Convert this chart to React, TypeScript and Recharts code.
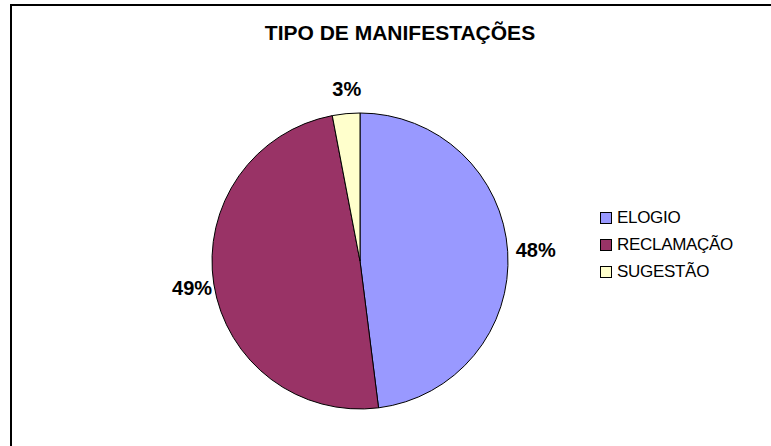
import React from "react";
import { PieChart, Pie, Cell, Legend } from "recharts";

const categories = ["ELOGIO", "RECLAMAÇÃO", "SUGESTÃO"];
const percents = [48, 49, 3];
const colors = ["#9999FF", "#993366", "#FFFFCC"];

const data = categories.map((name, i) => ({ name, value: percents[i] }));

const RADIAN = Math.PI / 180;
const FONT = "Liberation Sans, Arial, sans-serif";

const renderLabel = (props: any) => {
  const { cx, cy, midAngle, outerRadius, value } = props;
  const r = outerRadius + 25;
  const x = cx + r * Math.cos(-midAngle * RADIAN);
  const y = cy + r * Math.sin(-midAngle * RADIAN);
  return (
    <text
      x={x + 3}
      y={y}
      textAnchor="middle"
      dominantBaseline="central"
      fontFamily={FONT}
      fontWeight="bold"
      fontSize={20}
      fill="#000"
    >
      {value}%
    </text>
  );
};

const renderLegend = () => (
  <div style={{ fontFamily: FONT, fontSize: 17 }}>
    {categories.map((c, i) => (
      <div key={c} style={{ display: "flex", alignItems: "center", height: 27 }}>
        <span
          style={{
            width: 10,
            height: 10,
            background: colors[i],
            border: "1px solid #000",
            marginRight: 5,
            display: "inline-block",
          }}
        />
        <span style={{ letterSpacing: -0.3 }}>{c}</span>
      </div>
    ))}
  </div>
);

export default function App() {
  return (
    <div style={{ position: "absolute", left: 0, top: 0, width: 771, height: 446, background: "#fff", overflow: "hidden" }}>
      <div
        style={{
          position: "absolute",
          left: 10,
          top: 4,
          width: 800,
          height: 500,
          borderLeft: "2px solid #000",
          borderTop: "2px solid #000",
        }}
      />
      <div
        style={{
          position: "absolute",
          left: 0,
          width: 800,
          top: 21,
          textAlign: "center",
          fontFamily: FONT,
          fontWeight: "bold",
          fontSize: 21,
          lineHeight: "24px",
        }}
      >
        TIPO DE MANIFESTAÇÕES
      </div>
      <div style={{ position: "absolute", left: 0, top: 0 }}>
        <PieChart width={771} height={446} margin={{ top: 0, right: 0, bottom: 0, left: 0 }}>
          <Pie
            data={data}
            dataKey="value"
            nameKey="name"
            cx={360}
            cy={261}
            outerRadius={148}
            startAngle={90}
            endAngle={-270}
            stroke="#000"
            strokeWidth={1}
            label={renderLabel}
            labelLine={false}
            isAnimationActive={false}
          >
            {data.map((d, i) => (
              <Cell key={d.name} fill={colors[i]} />
            ))}
          </Pie>
          <Legend
            content={renderLegend}
            layout="vertical"
            wrapperStyle={{ left: 600, top: 204, width: 165 }}
          />
        </PieChart>
      </div>
    </div>
  );
}
